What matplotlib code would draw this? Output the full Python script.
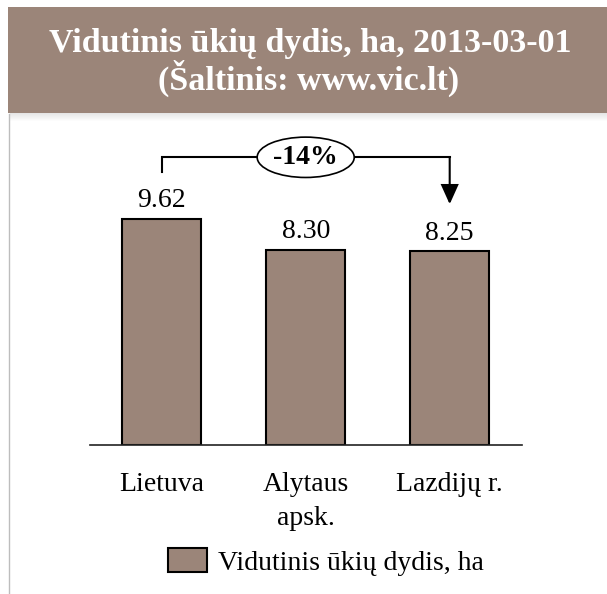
import matplotlib
matplotlib.use('Agg')
import matplotlib.pyplot as plt
from matplotlib.patches import Ellipse, Rectangle, Patch
from matplotlib.lines import Line2D

# duomenys
categories = ['Lietuva', 'Alytaus\napsk.', 'Lazdijų r.']
values = [9.62, 8.30, 8.25]
value_labels = ['9.62', '8.30', '8.25']
change_label = '-14%'
series_name = 'Vidutinis ūkių dydis, ha'
title_line1 = 'Vidutinis ūkių dydis, ha, 2013-03-01'
title_line2 = '(Šaltinis: www.vic.lt)'

brown = '#9b8579'
plt.rcParams['font.family'] = ['Liberation Serif', 'DejaVu Serif']

fig = plt.figure(figsize=(6.07, 5.94), dpi=100)
W, H = 607, 594

# antraste (juosta)
for i in range(8):
    fig.add_artist(Rectangle((10 / W, (594 - 114 - i) / H), 1, 1 / H,
                             transform=fig.transFigure, color='#000000',
                             alpha=0.10 * (1 - i / 8), lw=0))
fig.add_artist(Rectangle((8 / W, 1 - 113 / H), 1, 106 / H,
                         transform=fig.transFigure, color=brown, lw=0))
fig.text(310 / W, 1 - 52 / H, title_line1, color='white', fontsize=24.5,
         fontweight='bold', ha='center', va='baseline')
fig.text(309 / W, 1 - 90 / H, title_line2, color='white', fontsize=24.5,
         fontweight='bold', ha='center', va='baseline')

# kaire linija
fig.add_artist(Line2D([8.5 / W, 8.5 / W], [0, 1 - 114 / H], transform=fig.transFigure,
                      color='#bdbdbd', lw=1))

ax = fig.add_axes([89.7 / W, 1 - 444.7 / H, 432 / W, 305 / H])
x = list(range(len(categories)))
bars = ax.bar(x, values, width=0.55, color=brown, edgecolor='black', linewidth=1.5,
              label=series_name, zorder=2)
ax.bar_label(bars, labels=value_labels, padding=4, fontsize=20)
ax.set_xlim(-0.5, 2.5)
ax.set_ylim(0, 13)
ax.set_xticks(x)
ax.set_xticklabels(categories, fontsize=20, linespacing=1.45)
ax.tick_params(axis='x', length=0, pad=20)
ax.set_yticks([])
for s in ['top', 'right', 'left']:
    ax.spines[s].set_visible(False)
ax.spines['bottom'].set_color('#222222')
ax.spines['bottom'].set_linewidth(1.2)

# pokycio rodykle
top = max(values) + 2.63
ax.plot([0, 0, 2], [values[0] + 2.0, top, top], color='black', lw=1.5,
        solid_joinstyle='miter', clip_on=False)
ax.annotate('', xy=(2, values[2] + 2.0), xytext=(2, top),
            arrowprops=dict(arrowstyle='-|>,head_length=0.6,head_width=0.27',
                            mutation_scale=20, color='black', lw=1.5,
                            shrinkA=0, shrinkB=0, joinstyle='miter'))
ax.add_patch(Ellipse((1, top), 0.674, 1.72, facecolor='white', edgecolor='black',
                     lw=1.2, zorder=3, clip_on=False))
ax.text(1, top, change_label, fontsize=20, fontweight='bold', ha='center',
        va='center', zorder=4)

# legenda
fig.legend(handles=[Patch(facecolor=brown, edgecolor='black', lw=1.5, label=series_name)],
           loc='center left', bbox_to_anchor=(168 / W, 1 - 562 / H), frameon=False,
           fontsize=20, handlelength=1.4, handleheight=0.97, handletextpad=0.4,
           borderpad=0, borderaxespad=0)

fig.savefig('out.png', dpi=100)
